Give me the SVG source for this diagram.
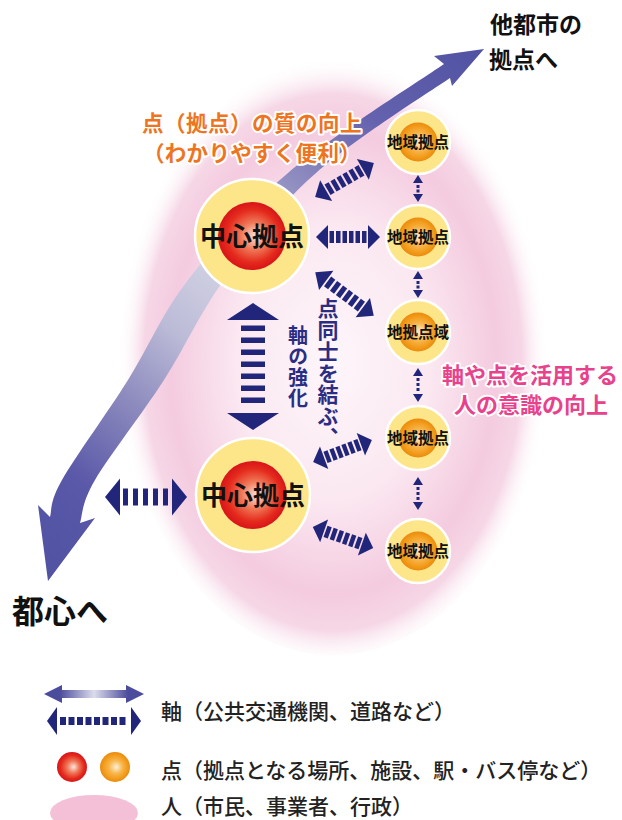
<svg xmlns="http://www.w3.org/2000/svg" width="622" height="820" viewBox="0 0 622 820">
<defs>
<style>
.jp{font-family:"Noto Sans CJK JP","Noto Sans",sans-serif}
.nv{fill:#22267a}
.ring{fill:#fde68a;stroke:#ffffff;stroke-width:2.5}
.big{font-size:26px;font-weight:bold;fill:#111}
.sm{font-size:15.5px;font-weight:bold;fill:#111}
.halo{paint-order:stroke;stroke:#ffffff;stroke-width:4;stroke-linejoin:round}
.lgd{font-size:21px;font-weight:500;fill:#222}
.vt{writing-mode:vertical-rl;font-weight:bold;fill:#2b2d83}
</style>
<radialGradient id="bg" cx="0.5" cy="0.52" r="0.5">
<stop offset="0" stop-color="#fdf6fa"/>
<stop offset="0.45" stop-color="#fbe8f1"/>
<stop offset="0.76" stop-color="#f4cbdf"/>
<stop offset="0.88" stop-color="#f6d7e6"/>
<stop offset="1" stop-color="#ffffff" stop-opacity="0"/>
</radialGradient>
<linearGradient id="axis" gradientUnits="userSpaceOnUse" x1="484" y1="49" x2="48" y2="580">
<stop offset="0" stop-color="#5052a2"/>
<stop offset="0.18" stop-color="#6462ae"/>
<stop offset="0.32" stop-color="#8e8cbf"/>
<stop offset="0.5" stop-color="#cfcfe2"/>
<stop offset="0.6" stop-color="#bdbcd8"/>
<stop offset="0.73" stop-color="#8a88bc"/>
<stop offset="0.86" stop-color="#5a58a8"/>
<stop offset="1" stop-color="#5052a2"/>
</linearGradient>
<radialGradient id="red" cx="0.5" cy="0.5" r="0.5" fx="0.56" fy="0.5">
<stop offset="0" stop-color="#fbe6de"/>
<stop offset="0.4" stop-color="#f07858"/>
<stop offset="0.78" stop-color="#e42a1c"/>
<stop offset="1" stop-color="#d8141a"/>
</radialGradient>
<radialGradient id="org" cx="0.5" cy="0.5" r="0.5" fx="0.55" fy="0.5">
<stop offset="0" stop-color="#fdf0d8"/>
<stop offset="0.45" stop-color="#f8b64c"/>
<stop offset="0.82" stop-color="#f29a18"/>
<stop offset="1" stop-color="#ea8a10"/>
</radialGradient>
<linearGradient id="lg" x1="0" y1="0" x2="1" y2="0">
<stop offset="0" stop-color="#4c4c9c"/>
<stop offset="0.5" stop-color="#dcdcec"/>
<stop offset="1" stop-color="#4c4c9c"/>
</linearGradient>
<g id="da" class="nv">
<polygon points="-32,0 -20,-12 -20,12"/>
<polygon points="32,0 20,-12 20,12"/>
<rect x="-18.5" y="-6" width="4.5" height="12"/>
<rect x="-12" y="-6" width="4.5" height="12"/>
<rect x="-5.5" y="-6" width="4.5" height="12"/>
<rect x="1" y="-6" width="4.5" height="12"/>
<rect x="7.5" y="-6" width="4.5" height="12"/>
<rect x="14" y="-6" width="4.5" height="12"/>
</g>
</defs>

<rect width="622" height="820" fill="#ffffff"/>
<ellipse id="people" cx="333" cy="350" rx="215" ry="305" fill="url(#bg)"/>

<g id="axis-arrow">
<path fill="url(#axis)" d="M484,49 L434,56 L444,64 C418.8,81.3 330.8,136.8 288,173 C245.2,209.2 214.7,245.5 188,280 C161.3,314.5 149,346.7 128,380 C107,413.3 75,457.2 62,480 C49,502.8 52,510.8 50,517 L38,505 L48,581 L95,518 L80,523 C82.5,515.8 81,503.8 95,480 C109,456.2 142.5,413.3 164,380 C185.5,346.7 198.7,314.5 224,280 C249.3,245.5 276.7,207.5 316,173 C355.3,138.5 428,93 450,78 L452,86 Z"/>
</g>

<g id="node-center-1">
<circle class="ring" cx="252" cy="236" r="57"/>
<circle cx="252" cy="236" r="34" fill="url(#red)"/>
<text class="jp big" x="252" y="246" text-anchor="middle">中心拠点</text>
</g>
<g id="node-center-2">
<circle class="ring" cx="253" cy="495" r="57"/>
<circle cx="253" cy="495" r="34" fill="url(#red)"/>
<text class="jp big" x="253" y="505" text-anchor="middle">中心拠点</text>
</g>
<g id="node-local-1">
<circle class="ring" cx="418" cy="142" r="32"/>
<circle cx="418" cy="142" r="19.5" fill="url(#org)"/>
<text class="jp sm" x="418" y="147.5" text-anchor="middle">地域拠点</text>
</g>
<g id="node-local-2">
<circle class="ring" cx="418" cy="237" r="32"/>
<circle cx="418" cy="237" r="19.5" fill="url(#org)"/>
<text class="jp sm" x="418" y="242.5" text-anchor="middle">地域拠点</text>
</g>
<g id="node-local-3">
<circle class="ring" cx="418" cy="332" r="32"/>
<circle cx="418" cy="332" r="19.5" fill="url(#org)"/>
<text class="jp sm" x="418" y="337.5" text-anchor="middle">地拠点域</text>
</g>
<g id="node-local-4">
<circle class="ring" cx="418" cy="438" r="32"/>
<circle cx="418" cy="438" r="19.5" fill="url(#org)"/>
<text class="jp sm" x="418" y="443.5" text-anchor="middle">地域拠点</text>
</g>
<g id="node-local-5">
<circle class="ring" cx="418" cy="551" r="32"/>
<circle cx="418" cy="551" r="19.5" fill="url(#org)"/>
<text class="jp sm" x="418" y="556.5" text-anchor="middle">地域拠点</text>
</g>

<g id="connectors">
<use href="#da" transform="translate(344.5,180) rotate(-30) scale(1.06,1)"/>
<use href="#da" transform="translate(348,237)"/>
<use href="#da" transform="translate(344.5,294) rotate(36.7) scale(1.14,1)"/>
<use href="#da" transform="translate(342.5,451) rotate(-20.4) scale(0.98,1)"/>
<use href="#da" transform="translate(343,537.5) rotate(19.3)"/>
<g class="nv">
<polygon points="105,497 120,478.5 120,515.5"/>
<polygon points="187,497 172,478.5 172,515.5"/>
<rect x="123" y="488.5" width="5" height="17"/>
<rect x="133" y="488.5" width="5" height="17"/>
<rect x="143" y="488.5" width="5" height="17"/>
<rect x="153" y="488.5" width="5" height="17"/>
<rect x="163" y="488.5" width="5" height="17"/>
</g>
<g class="nv">
<polygon points="253,303 227,320 279,320"/>
<polygon points="253,430 227,413 279,413"/>
<rect x="241" y="325.5" width="24" height="5.5"/>
<rect x="241" y="337.5" width="24" height="5.5"/>
<rect x="241" y="349.5" width="24" height="5.5"/>
<rect x="241" y="361.5" width="24" height="5.5"/>
<rect x="241" y="373.5" width="24" height="5.5"/>
<rect x="241" y="385.5" width="24" height="5.5"/>
<rect x="241" y="397.5" width="24" height="5.5"/>
</g>
<g class="nv">
<polygon points="418,175 413,183 423,183"/>
<polygon points="418,202 413,194 423,194"/>
<rect x="416.5" y="185" width="3" height="3"/><rect x="416.5" y="189.5" width="3" height="3"/>
<polygon points="418,271 413,279 423,279"/>
<polygon points="418,298 413,290 423,290"/>
<rect x="416.5" y="281" width="3" height="3"/><rect x="416.5" y="285.5" width="3" height="3"/>
<polygon points="418,368 413,376 423,376"/>
<polygon points="418,402 413,394 423,394"/>
<rect x="416.5" y="378" width="3" height="3"/><rect x="416.5" y="383" width="3" height="3"/><rect x="416.5" y="388" width="3" height="3"/>
<polygon points="418,477 413,485 423,485"/>
<polygon points="418,510 413,502 423,502"/>
<rect x="416.5" y="487" width="3" height="3"/><rect x="416.5" y="492" width="3" height="3"/><rect x="416.5" y="497" width="3" height="3"/>
</g>
</g>

<g id="labels">
<text class="jp" x="490" y="33" font-size="23" font-weight="bold" fill="#111">他都市の</text>
<text class="jp" x="489" y="68" font-size="23" font-weight="bold" fill="#111">拠点へ</text>
<text class="jp" x="12" y="623" font-size="32" font-weight="bold" fill="#111">都心へ</text>
<text class="jp halo" x="252" y="131" font-size="21.5" font-weight="bold" fill="#ee7420" text-anchor="middle" letter-spacing="0.5">点（拠点）の質の向上</text>
<text class="jp halo" x="252" y="161" font-size="21.5" font-weight="bold" fill="#ee7420" text-anchor="middle" letter-spacing="0.3">（わかりやすく便利）</text>
<text class="jp halo" x="530" y="383" font-size="22" font-weight="bold" fill="#e8428c" text-anchor="middle">軸や点を活用する</text>
<text class="jp halo" x="531" y="413" font-size="22" font-weight="bold" fill="#e8428c" text-anchor="middle">人の意識の向上</text>
<text class="jp vt" x="328" y="298" font-size="21" letter-spacing="0.5">点同士を結ぶ、</text>
<text class="jp vt" x="298" y="325" font-size="20" letter-spacing="1">軸の強化</text>
</g>

<g id="legend">
<g id="legend-axis-1">
<polygon points="44,694 62,685 62,703" fill="#4c4c9c"/>
<polygon points="144,694 126,685 126,703" fill="#4c4c9c"/>
<rect x="60" y="690" width="68" height="8" fill="url(#lg)"/>
</g>
<g id="legend-axis-2" class="nv">
<polygon points="47,721 57,707 57,735"/>
<polygon points="141,721 131,707 131,735"/>
<rect x="60" y="717" width="6" height="8"/><rect x="68.5" y="717" width="6" height="8"/><rect x="77" y="717" width="6" height="8"/><rect x="85.5" y="717" width="6" height="8"/><rect x="94" y="717" width="6" height="8"/><rect x="102.5" y="717" width="6" height="8"/><rect x="111" y="717" width="6" height="8"/><rect x="119.5" y="717" width="6" height="8"/>
</g>
<text class="jp lgd" x="161" y="719">軸（公共交通機関、道路など）</text>
<circle id="legend-red" cx="72" cy="767" r="15" fill="url(#red)"/>
<circle id="legend-orange" cx="115" cy="767" r="15" fill="url(#org)"/>
<text class="jp lgd" x="161" y="778">点（拠点となる場所、施設、駅・バス停など）</text>
<ellipse id="legend-people" cx="94" cy="813" rx="44" ry="18" fill="#f4c0d7"/>
<text class="jp lgd" x="161" y="814" font-size="20.5">人（市民、事業者、行政）</text>
</g>
</svg>
